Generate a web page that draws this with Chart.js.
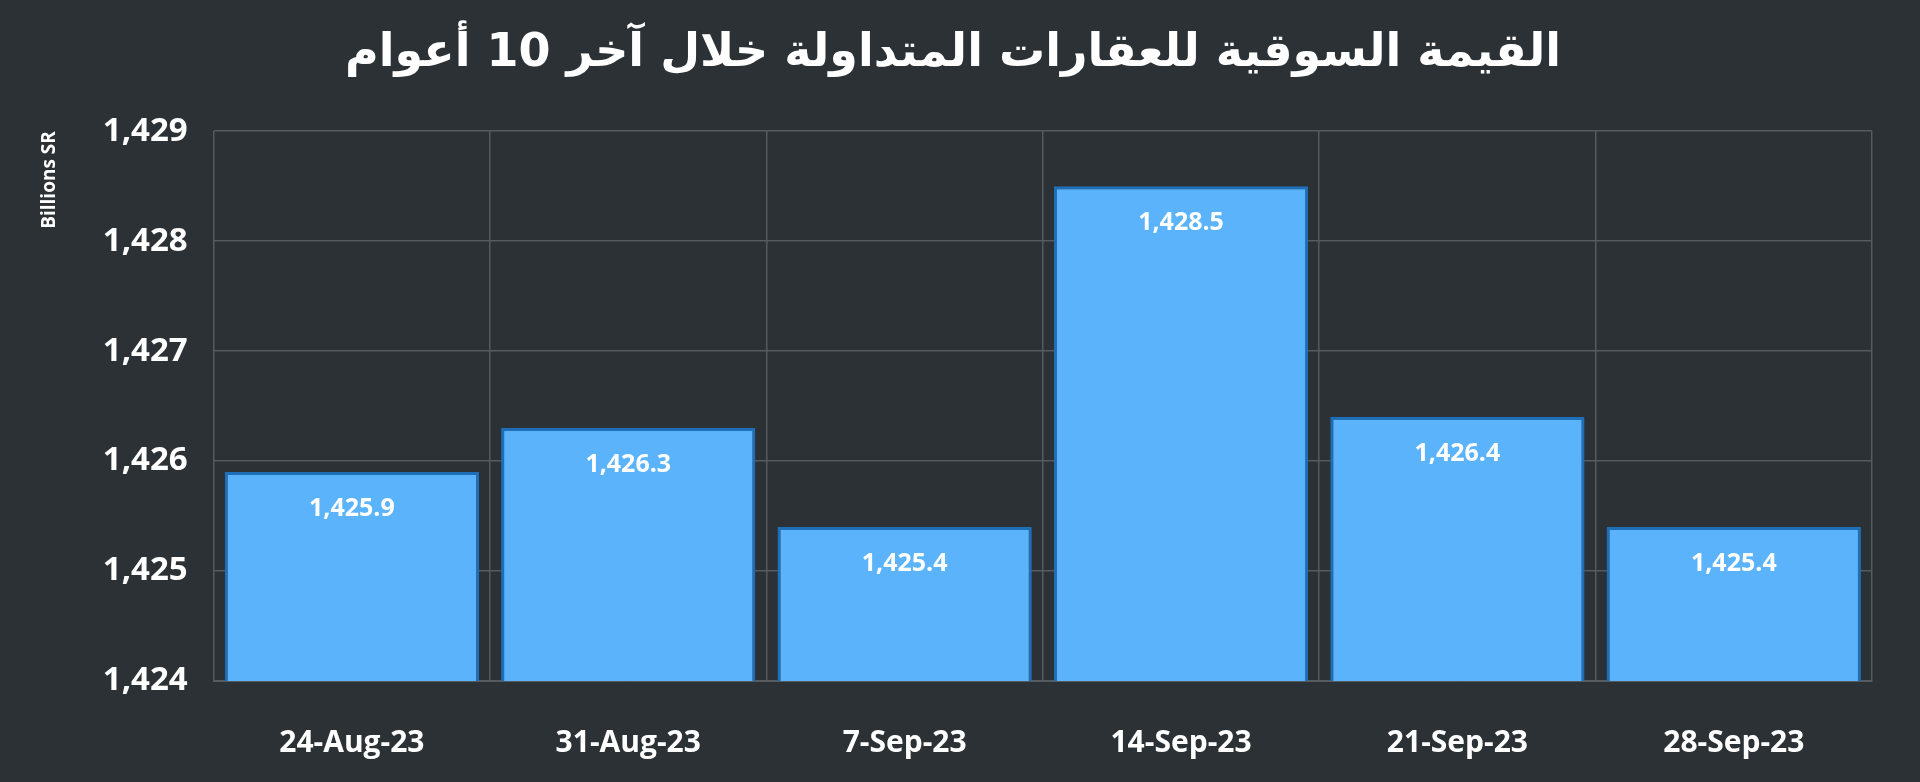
<!DOCTYPE html>
<html>
<head>
<meta charset="utf-8">
<script src="https://cdn.jsdelivr.net/npm/chart.js@4"></script>
<style>
  html, body { margin: 0; padding: 0; background: #2b3134; overflow: hidden; }
  #wrap { width: 1920px; height: 805px; position: relative; }
</style>
</head>
<body>
<div id="wrap"><canvas id="chart"></canvas></div>
<script>
const categories = ['24-Aug-23', '31-Aug-23', '7-Sep-23', '14-Sep-23', '21-Sep-23', '28-Sep-23'];
const values = [1425.9, 1426.3, 1425.4, 1428.5, 1426.4, 1425.4];
const yTicks = [1424, 1425, 1426, 1427, 1428, 1429];
const titleText = 'القيمة السوقية للعقارات المتداولة خلال آخر 10 أعوام';

// draw value labels inside top of each bar
const valueLabels = {
    id: 'valueLabels',
    afterDatasetsDraw(chart) {
        const ctx = chart.ctx;
        const meta = chart.getDatasetMeta(0);
        ctx.save();
        ctx.fillStyle = '#ffffff';
        ctx.font = 'bold 25px "Open Sans", "DejaVu Sans", sans-serif';
        ctx.textAlign = 'center';
        ctx.textBaseline = 'middle';
        meta.data.forEach(function(bar, i) {
            ctx.fillText(values[i].toLocaleString('en-US', { minimumFractionDigits: 1 }), bar.x, bar.y + 37);
        });
        ctx.restore();
    }
};

const ctx = document.getElementById('chart').getContext('2d');
new Chart(ctx, {
    type: 'bar',
    data: {
        labels: categories,
        datasets: [{
            data: values,
            backgroundColor: '#5ab3fb',
            borderColor: '#1f6fb8',
            borderWidth: 3,
            borderSkipped: 'bottom',
            barPercentage: 0.92,
            categoryPercentage: 1
        }]
    },
    options: {
        responsive: true,
        maintainAspectRatio: false,
        animation: false,
        layout: { padding: { left: 34, right: 48, top: 10, bottom: 0 } },
        plugins: {
            legend: { display: false },
            tooltip: { enabled: false },
            title: {
                display: true,
                text: titleText,
                color: '#ffffff',
                font: { family: '"DejaVu Sans", sans-serif', size: 46, weight: 'bold' },
                padding: { top: 16, bottom: 50 }
            }
        },
        scales: {
            x: {
                offset: true,
                grid: { display: true, offset: true, color: '#555b5e', lineWidth: 1.5, drawTicks: false },
                border: { color: '#555b5e' },
                ticks: {
                    color: '#ffffff',
                    padding: 44,
                    font: { family: '"Open Sans", sans-serif', size: 30, weight: 'bold' }
                }
            },
            y: {
                min: 1424,
                max: 1429,
                afterBuildTicks(axis) { axis.ticks = yTicks.map(v => ({ value: v })); },
                grid: { color: '#555b5e', lineWidth: 1.5, drawTicks: false },
                border: { color: '#555b5e' },
                ticks: {
                    color: '#ffffff',
                    padding: 26,
                    font: { family: '"Open Sans", sans-serif', size: 33, weight: 'bold' },
                    callback: v => v.toLocaleString('en-US')
                },
                title: {
                    display: true,
                    text: 'Billions SR',
                    align: 'end',
                    color: '#ffffff',
                    padding: { bottom: 16 },
                    font: { family: '"Open Sans", sans-serif', size: 19, weight: 'bold' }
                }
            }
        }
    },
    plugins: [valueLabels]
});
</script>
</body>
</html>
